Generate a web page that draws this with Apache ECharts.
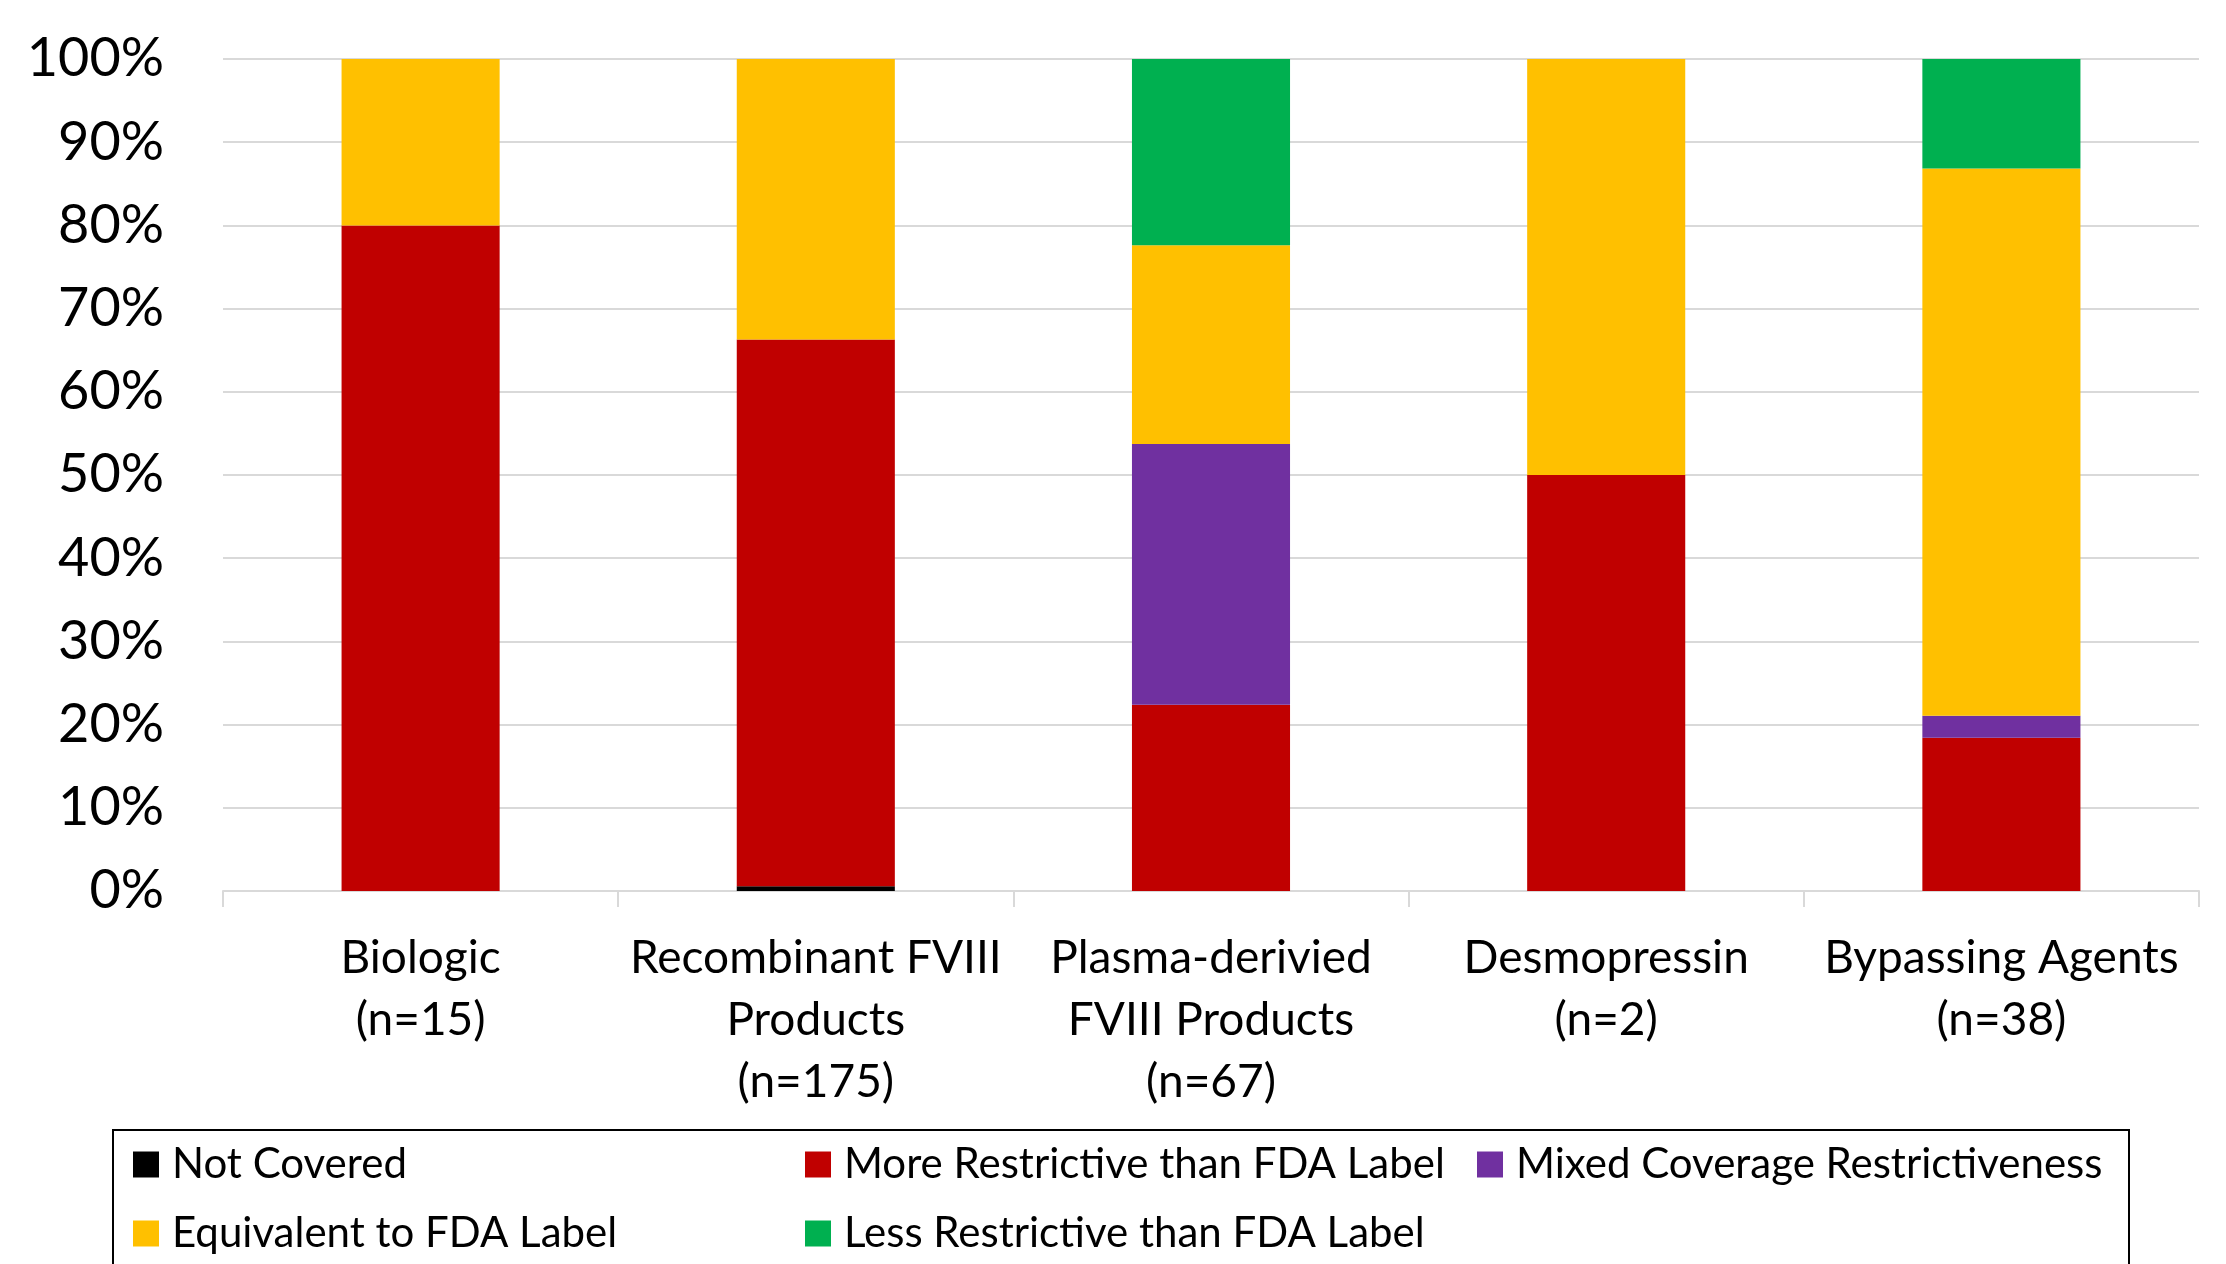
<!DOCTYPE html>
<html>
<head>
<meta charset="utf-8">
<script src="https://cdn.jsdelivr.net/npm/echarts@6/dist/echarts.min.js"></script>
<style>
html,body{margin:0;padding:0;background:#fff;}
#chart{width:2226px;height:1264px;}
</style>
</head>
<body>
<div id="chart"></div>
<script>
const categories = [
  'Biologic\n(n=15)',
  'Recombinant FVIII\nProducts\n(n=175)',
  'Plasma-derivied\nFVIII Products\n(n=67)',
  'Desmopressin\n(n=2)',
  'Bypassing Agents\n(n=38)'
];
const seriesNames = [
  'Not Covered',
  'More Restrictive than FDA Label',
  'Mixed Coverage Restrictiveness',
  'Equivalent to FDA Label',
  'Less Restrictive than FDA Label'
];
const notCovered      = [0, 0.57, 0, 0, 0];
const moreRestrictive = [80, 65.71, 22.39, 50, 18.42];
const mixedCoverage   = [0, 0, 31.34, 0, 2.63];
const equivalent      = [20, 33.72, 23.88, 50, 65.79];
const lessRestrictive = [0, 0, 22.39, 0, 13.16];
const yTicks = { min: 0, max: 100, interval: 10 };

const colors = ['#000000', '#C00000', '#7030A0', '#FFC000', '#00B050'];
const values = [notCovered, moreRestrictive, mixedCoverage, equivalent, lessRestrictive];
const FONT = 'Lato';

const chart = echarts.init(document.getElementById('chart'), null, { renderer: 'canvas' });
chart.setOption({
  backgroundColor: '#ffffff',
  animation: false,
  grid: { left: 223, right: 27, top: 59, bottom: 373, containLabel: false },
  xAxis: {
    type: 'category',
    data: categories,
    axisLine: { show: true, lineStyle: { color: '#d9d9d9', width: 2 } },
    axisTick: { show: true, alignWithLabel: false, length: 16, lineStyle: { color: '#d9d9d9', width: 2 } },
    axisLabel: {
      interval: 0, margin: 36, color: '#000', fontFamily: FONT, fontSize: 46, lineHeight: 62
    },
    splitLine: { show: false }
  },
  yAxis: {
    type: 'value',
    min: yTicks.min, max: yTicks.max, interval: yTicks.interval,
    axisLine: { show: false },
    axisTick: { show: false },
    axisLabel: { formatter: '{value}%', color: '#000', fontFamily: FONT, fontSize: 54, margin: 59 },
    splitLine: { show: true, lineStyle: { color: '#d9d9d9', width: 2 } }
  },
  legend: {
    data: seriesNames,
    orient: 'horizontal',
    left: 133, top: 1130, width: 2020,
    padding: 0, itemGap: 0,
    itemWidth: 26, itemHeight: 26,
    icon: 'rect',
    selectedMode: false,
    textStyle: { color: '#000', fontFamily: FONT, fontSize: 42, lineHeight: 69, width: 633, padding: [0, 0, 0, 8] }
  },
  graphic: [{
    type: 'rect', silent: true, z: -1,
    shape: { x: 113, y: 1130, width: 2016, height: 300 },
    style: { fill: 'none', stroke: '#000', lineWidth: 2 }
  }],
  series: seriesNames.map((name, i) => ({
    name: name,
    type: 'bar',
    stack: 'total',
    barWidth: '40%',
    data: values[i],
    itemStyle: { color: colors[i] }
  }))
});
</script>
</body>
</html>
